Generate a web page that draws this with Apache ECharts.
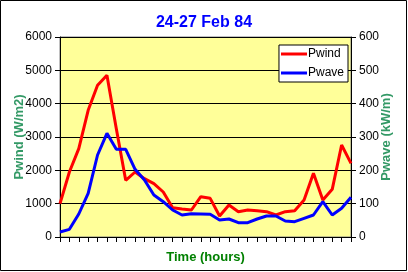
<!DOCTYPE html>
<html>
<head>
<meta charset="utf-8">
<script src="https://cdn.jsdelivr.net/npm/echarts@6/dist/echarts.min.js"></script>
<style>
html,body{margin:0;padding:0;background:#fff;}
#c{width:408px;height:272px;}
</style>
</head>
<body>
<div id="c"></div>
<script>
const hours = Array.from({length: 32}, (_, i) => String(i));
const pwind = [1000, 1950, 2650, 3800, 4550, 4850, 3250, 1700, 1950, 1750, 1600, 1350, 880, 840, 810, 1210, 1160, 630, 960, 760, 810, 790, 760, 660, 760, 790, 1110, 1910, 1110, 1430, 2760, 2210];
const pwave = [15, 23, 69, 131, 246, 311, 263, 263, 203, 171, 126, 106, 81, 66, 70, 69, 68, 51, 54, 43, 43, 54, 63, 63, 48, 46, 56, 66, 106, 66, 86, 119];
const leftTicks = [0, 1000, 2000, 3000, 4000, 5000, 6000];
const rightTicks = [0, 100, 200, 300, 400, 500, 600];

const chart = echarts.init(document.getElementById('c'), null, {renderer: 'canvas'});
const font = 'Arial, "Liberation Sans", sans-serif';
chart.setOption({
  animation: false,
  backgroundColor: '#fff',
  title: {
    text: '24-27 Feb 84',
    left: 'center',
    top: 10,
    textStyle: {color: '#0000ff', fontSize: 16, fontWeight: 'bold', fontFamily: font}
  },
  grid: {
    left: 60, right: 57, top: 37, bottom: 35,
    show: true, backgroundColor: '#ffff99', borderColor: '#808080', borderWidth: 1
  },
  legend: {
    orient: 'vertical',
    right: 60, top: 45,
    backgroundColor: '#fff',
    borderColor: '#000', borderWidth: 1,
    padding: [3, 4, 3, 2],
    itemWidth: 26, itemHeight: 3, itemGap: 7,
    icon: 'rect',
    textStyle: {fontSize: 12, fontFamily: font, color: '#000', padding: [0, 0, 0, -4]},
    data: ['Pwind', 'Pwave']
  },
  xAxis: {
    type: 'category',
    data: hours,
    boundaryGap: false,
    name: 'Time (hours)',
    nameLocation: 'middle',
    nameGap: 14,
    nameTextStyle: {color: '#008000', fontSize: 13, fontWeight: 'bold', fontFamily: font},
    axisLine: {lineStyle: {color: '#000', width: 1}},
    axisTick: {show: true, interval: 0, length: 5, lineStyle: {color: '#000'}},
    axisLabel: {show: false},
    splitLine: {show: false}
  },
  yAxis: [{
    type: 'value',
    min: leftTicks[0], max: leftTicks[leftTicks.length - 1], interval: 1000,
    name: 'Pwind (W/m2)',
    nameLocation: 'middle',
    nameGap: 34,
    nameMoveOverlap: false,
    nameTextStyle: {color: '#339966', fontSize: 13, fontWeight: 'bold', fontFamily: font},
    axisLine: {show: true, lineStyle: {color: '#000'}},
    axisTick: {show: true, length: 5, lineStyle: {color: '#000'}},
    axisLabel: {color: '#000', fontSize: 12, fontFamily: font, margin: 8, formatter: v => String(v)},
    splitLine: {show: true, lineStyle: {color: '#000', width: 1}}
  }, {
    type: 'value',
    min: rightTicks[0], max: rightTicks[rightTicks.length - 1], interval: 100,
    name: 'Pwave (kW/m)',
    nameLocation: 'middle',
    nameGap: 29,
    nameRotate: 90,
    nameMoveOverlap: false,
    nameTextStyle: {color: '#339966', fontSize: 13, fontWeight: 'bold', fontFamily: font},
    axisLine: {show: true, lineStyle: {color: '#000'}},
    axisTick: {show: true, length: 5, lineStyle: {color: '#000'}},
    axisLabel: {color: '#000', fontSize: 12, fontFamily: font, margin: 8, formatter: v => String(v)},
    splitLine: {show: false}
  }],
  series: [{
    name: 'Pwind', type: 'line', data: pwind, yAxisIndex: 0,
    showSymbol: false, color: '#ff0000',
    lineStyle: {width: 3, color: '#ff0000'}
  }, {
    name: 'Pwave', type: 'line', data: pwave, yAxisIndex: 1,
    showSymbol: false, color: '#0000ff',
    lineStyle: {width: 3, color: '#0000ff'}
  }],
  graphic: [{
    type: 'rect', silent: true,
    shape: {x: 0.5, y: 0.5, width: 406, height: 270},
    style: {fill: 'none', stroke: '#000', lineWidth: 1}
  }]
});
</script>
</body>
</html>
